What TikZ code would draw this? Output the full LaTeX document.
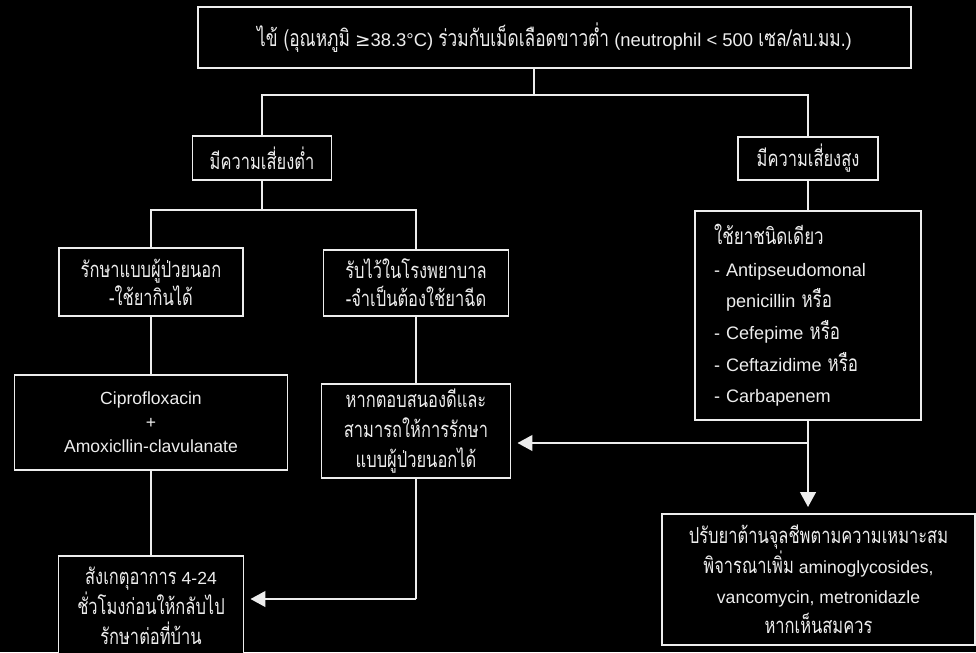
\documentclass[tikz,border=0pt]{standalone}
\usepackage{fontspec}
\setmainfont{Liberation Sans}
\newfontfamily\thaifont[Script=Thai,Scale=1.25,FakeStretch=0.75]{Loma}
\newfontfamily\symfont{DejaVu Sans}
\newcommand{\thai}[1]{{\thaifont #1}}
\usepackage{tikz}
\usetikzlibrary{positioning,arrows.meta,calc}
\definecolor{ink}{HTML}{EDEDED}

\begin{document}
\begin{tikzpicture}[
  x=0.02cm, y=-0.02cm,
  box/.style={draw=ink, fill=black, text=ink, line width=1pt, inner sep=2pt, align=center, font=\fontsize{10}{17}\selectfont},
  conn/.style={draw=ink, line width=1pt},
  arr/.style={conn, -{Triangle[width=9pt,length=8.5pt]}, shorten >=3.5pt}
]
\useasboundingbox (0,0) rectangle (976,652);
\fill[black] (0,0) rectangle (976,652);
% first split
\node[box, minimum width=14.26cm, minimum height=1.22cm, font=\fontsize{10.5}{17}\selectfont] (top) at (554.5,37.5)
  {\thai{ไข้ (อุณหภูมิ} {\symfont ≥}38.3°C) \thai{ร่วมกับเม็ดเลือดขาวต่ำ} (neutrophil < 500 \thai{เซล/ลบ.มม.})};
\node[box, minimum width=2.78cm, minimum height=0.88cm] (low) at (262,158) {\thai{มีความเสี่ยงต่ำ}};
\node[box, minimum width=2.8cm, minimum height=0.86cm] (high) at (808,158.5) {\thai{มีความเสี่ยงสูง}};
% low risk
\node[box, minimum width=3.68cm, minimum height=1.36cm, font=\fontsize{10}{16}\selectfont] (opd) at (151,282)
  {\thai{รักษาแบบผู้ป่วยนอก}\\\thai{-ใช้ยากินได้}};
\node[box, minimum width=3.7cm, minimum height=1.32cm, font=\fontsize{10}{16}\selectfont] (ipd) at (416,283)
  {\thai{รับไว้ในโรงพยาบาล}\\\thai{-จำเป็นต้องใช้ยาฉีด}};
\node[box, minimum width=5.46cm, minimum height=1.9cm, font=\fontsize{10}{13.6}\selectfont] (cipro) at (151,422.5)
  {Ciprofloxacin\\+\\Amoxicllin-clavulanate};
\node[box, minimum width=3.78cm, minimum height=1.88cm] (resp) at (416,431)
  {\thai{หากตอบสนองดีและ}\\\thai{สามารถให้การรักษา}\\\thai{แบบผู้ป่วยนอกได้}};
\node[box, minimum width=3.7cm, minimum height=2.0cm] (obs) at (151,606)
  {\thai{สังเกตุอาการ} 4-24\\\thai{ชั่วโมงก่อนให้กลับไป}\\\thai{รักษาต่อที่บ้าน}};
% high risk
\node[box, inner xsep=0.38cm, text width=3.76cm, minimum height=4.18cm, align=left, font=\fontsize{10.3}{18}\selectfont] (mono) at (808,315.5)
  {\thai{ใช้ยาชนิดเดียว}\\
   - Antipseudomonal\\
   \phantom{- }penicillin \thai{หรือ}\\
   - Cefepime \thai{หรือ}\\
   - Ceftazidime \thai{หรือ}\\
   - Carbapenem};
\node[box, minimum width=6.26cm, minimum height=2.62cm] (adjust) at (818.5,579.5)
  {\thai{ปรับยาต้านจุลชีพตามความเหมาะสม}\\\thai{พิจารณาเพิ่ม} aminoglycosides,\\vancomycin, metronidazle\\\thai{หากเห็นสมควร}};
% connectors
\coordinate (j1) at (534,95);
\coordinate (j2) at (262,210);
\coordinate (j4) at (808,443);
\coordinate (j5) at (416,599);
\draw[conn] (top.south -| j1) -- (j1);
\draw[conn] (low.north) |- (j1) -| (high.north);
\draw[conn] (low.south) -- (j2);
\draw[conn] (opd.north) |- (j2) -| (ipd.north);
\draw[conn] (opd.south) -- (cipro.north);
\draw[conn] (cipro.south) -- (obs.north);
\draw[conn] (ipd.south) -- (resp.north);
\draw[conn] (high.south) -- (mono.north);
\draw[arr] (mono.south) -- (mono.south |- adjust.north);
\draw[arr] (j4) -- (j4 -| resp.east);
\draw[conn] (resp.south) -- (j5);
\draw[arr] (j5) -- (j5 -| obs.east);
\end{tikzpicture}
\end{document}
